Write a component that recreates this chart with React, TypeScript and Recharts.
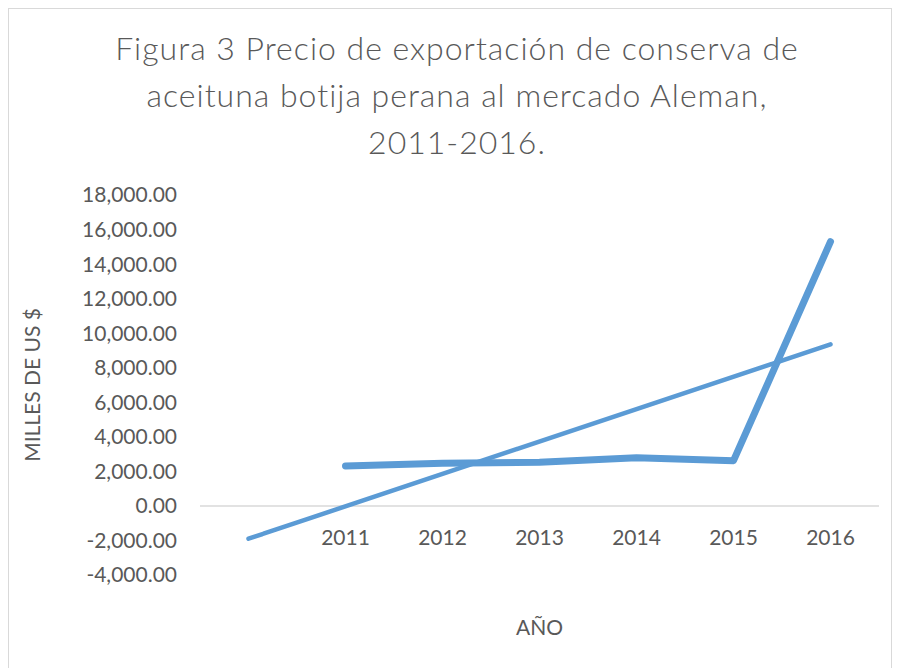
import React from 'react';
import { LineChart, Line, XAxis, YAxis, ReferenceLine } from 'recharts';

// Categories: the first (blank) slot holds the trendline's one-period backward forecast
const categories = ['', '2011', '2012', '2013', '2014', '2015', '2016'];
// Export price, thousands of US $
const precio: (number | null)[] = [null, 2310, 2467, 2525, 2790, 2617, 15298];
// Linear trendline end points
const tendencia: (number | null)[] = [-1900, null, null, null, null, null, 9355];
const yTicks = [-4000, -2000, 0, 2000, 4000, 6000, 8000, 10000, 12000, 14000, 16000, 18000];
const titleLines = [
  'Figura 3 Precio de exportación de conserva de',
  'aceituna botija perana al mercado Aleman,',
  '2011-2016.',
];

const data = categories.map((c, i) => ({ anio: c, precio: precio[i], tendencia: tendencia[i] }));

const TEXT = '#595959';
const BLUE = '#5B9BD5';
const FONT = 'Lato, "Open Sans", sans-serif';

const fmt = (v: number) =>
  v.toLocaleString('en-US', { minimumFractionDigits: 2, maximumFractionDigits: 2 });

const XTick = (props: any) => {
  const { x, y, payload } = props;
  if (!payload || !payload.value) return null;
  return (
    <text x={x} y={y} dy={-38.5} textAnchor="middle" fill={TEXT} fontSize={21} fontFamily={FONT}>
      {payload.value}
    </text>
  );
};

export default function App() {
  return (
    <div
      style={{
        position: 'fixed',
        top: 8,
        left: 8,
        width: 882,
        height: 660,
        borderTop: '1px solid #d9d9d9',
        borderLeft: '1px solid #d9d9d9',
        borderRight: '1px solid #d9d9d9',
        background: '#fff',
      }}
    >
      <div
        style={{
          position: 'absolute',
          top: 15,
          left: 0,
          width: 882,
          paddingLeft: 14,
          boxSizing: 'border-box',
          textAlign: 'center',
          fontFamily: FONT,
          fontWeight: 300,
          fontSize: 32,
          letterSpacing: 1,
          lineHeight: '47px',
          color: TEXT,
          whiteSpace: 'nowrap',
        }}
      >
        {titleLines.map((l, i) => (
          <div key={i}>{l}</div>
        ))}
      </div>
      <LineChart width={882} height={660} data={data} margin={{ top: 186, right: 12, bottom: 0, left: 24 }}>
        <XAxis
          dataKey="anio"
          type="category"
          padding={{ left: 48.5, right: 48.5 }}
          axisLine={false}
          tickLine={false}
          interval={0}
          height={94}
          tick={<XTick />}
          label={{
            value: 'AÑO',
            position: 'insideTop',
            offset: 45,
            fill: TEXT,
            fontSize: 21,
            fontFamily: FONT,
          }}
        />
        <YAxis
          type="number"
          domain={[-4000, 18000]}
          ticks={yTicks}
          interval={0}
          width={167}
          axisLine={false}
          tickLine={false}
          tickMargin={17}
          tickFormatter={fmt}
          tick={{ fill: TEXT, fontSize: 21, fontFamily: FONT }}
          label={{
            value: 'MILLES DE US $',
            angle: -90,
            position: 'insideLeft',
            offset: 0,
            fill: TEXT,
            fontSize: 21,
            fontFamily: FONT,
            style: { textAnchor: 'middle' },
          }}
        />
        <ReferenceLine y={0} stroke="#d9d9d9" strokeWidth={1.5} />
        <Line
          dataKey="tendencia"
          stroke={BLUE}
          strokeWidth={4.5}
          strokeLinecap="round"
          dot={false}
          activeDot={false}
          connectNulls
          isAnimationActive={false}
        />
        <Line
          dataKey="precio"
          stroke={BLUE}
          strokeWidth={7}
          strokeLinecap="round"
          strokeLinejoin="round"
          dot={false}
          activeDot={false}
          isAnimationActive={false}
        />
      </LineChart>
    </div>
  );
}
